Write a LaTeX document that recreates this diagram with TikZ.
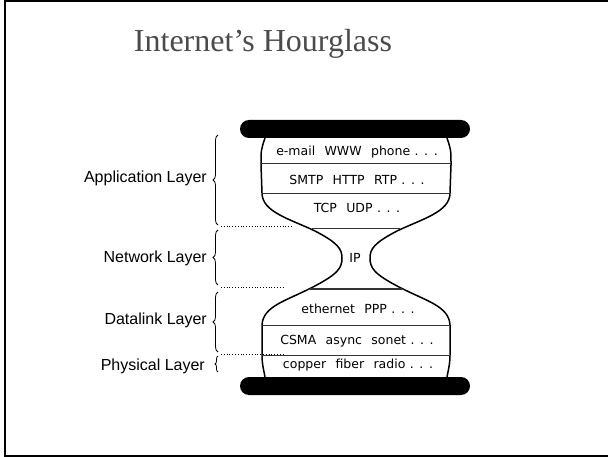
\documentclass[tikz,border=0pt]{standalone}
\usepackage{fontspec}
\setmainfont{Liberation Serif}
\newfontfamily\labelfont{Liberation Sans}
\newfontfamily\layerfont{DejaVu Sans}
\usetikzlibrary{decorations.pathreplacing}
\definecolor{titlegray}{RGB}{75,75,75}
\newcommand{\gap}{\hspace{0.75em}}
\newcommand{\etc}{\hspace{0.35em}.\hspace{0.45em}.\hspace{0.45em}.}

\begin{document}
\begin{tikzpicture}[x=1pt,y=-1pt,
	layer/.style={font=\layerfont\fontsize{12.5}{14}\selectfont},
	side/.style={left,inner sep=0pt,font=\labelfont\fontsize{16}{19}\selectfont},
	brace/.style={decorate,decoration={brace,amplitude=5pt},thick},
	sep/.style={line width=1pt,black!80}]
	\useasboundingbox (0,0) rectangle (608,457);
	\draw[line width=2pt] (612,1) -- (4.5,1) -- (4.5,455.5) -- (612,455.5);
	
	\node[anchor=base,titlegray,font=\fontsize{32}{38}\selectfont] (title) at (263,52){Internet's Hourglass};
	
	% the two black bars
	\fill[rounded corners=9pt] (240,120) rectangle (470,138);
	\fill[rounded corners=9pt] (240,377) rectangle (470,395);
	
	% outline, left half and its mirror
	\foreach \s/\t in {1/0,-1/712}{
	\draw[line width=1.5pt,xshift=\t pt,xscale=\s] (265,138) .. controls (261,150) .. (261,165) -- (262,193)
		.. controls (262,212) and (290,219) .. (315,231) .. controls (338,243) and (342,249) .. (342,258)
		.. controls (342,268) and (338,274) .. (313,287) .. controls (286,301) and (263,306) .. (262,325)
		-- (262,355) .. controls (262,365) and (264,371) .. (265,377);
	}
	
	\draw[sep] (261,164) -- (451,164);
	\draw[sep] (262,194) -- (450,194);
	\draw[sep] (312,229) -- (400,229);
	\draw[sep] (310,289) -- (402,289);
	\draw[sep] (262,325) -- (450,325);
	\draw[sep] (262,355) -- (450,355);
	
	\node[layer] (apps) at (357,152){e-mail\gap WWW\gap phone\etc};
	\node[layer] (protos) at (357,180){SMTP\gap HTTP\gap RTP\etc};
	\node[layer] (trans) at (357,208){TCP\gap UDP\etc};
	\node[layer] (ip) at (355,258){IP};
	\node[layer] (link) at (358,309){ethernet\gap PPP\etc};
	\node[layer] (mac) at (357,341){CSMA\gap async\gap sonet\etc};
	\node[layer] (phys) at (358,365){copper\gap fiber\gap radio\etc};
	
	% layer names and braces
	\node[side] (appl) at (207,178){Application Layer};
	\node[side] (netl) at (207,258){Network Layer};
	\node[side] (dll) at (207,320){Datalink Layer};
	\node[side] (phl) at (205,366){Physical Layer};
	
	\draw[brace] (218,225) -- (218,135);
	\draw[brace] (218,285) -- (218,230);
	\draw[brace] (218,352) -- (218,292);
	\draw[brace,decoration={amplitude=3pt}] (218,372) -- (218,356);
	
	\draw[dotted,thick] (221,226) -- (292,226);
	\draw[dotted,thick] (221,287) -- (285,287);
	\draw[dotted,thick] (221,354) -- (285,354);
\end{tikzpicture}
\end{document}
